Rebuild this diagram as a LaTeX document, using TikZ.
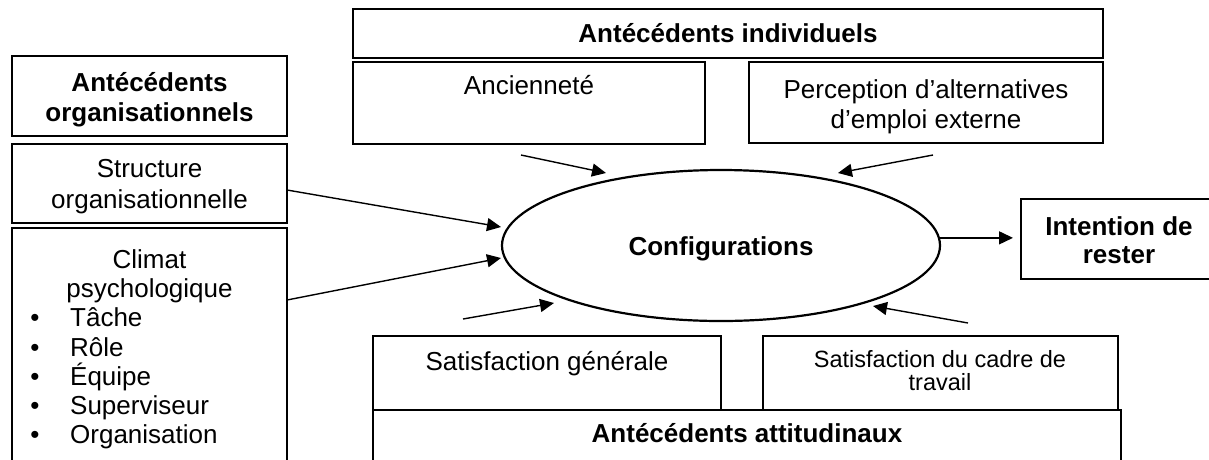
\documentclass[tikz,border=0pt]{standalone}
\usepackage{fontspec}
\setmainfont{Liberation Sans}
\usetikzlibrary{arrows.meta,shapes.geometric}
\tikzset{
  boxst/.style={draw, line width=1.4pt, inner sep=0pt, outer sep=0pt, anchor=north west},
  txt/.style={inner sep=0pt, anchor=base, font=\fontsize{26}{30}\selectfont},
  btxt/.style={txt, font=\fontsize{26}{30}\selectfont\bfseries},
  stxt/.style={txt, font=\fontsize{23.5}{27}\selectfont},
  ltxt/.style={txt, anchor=base west},
  arr/.style={line width=1.4pt, -{Triangle[length=14pt,width=13pt]}},
  ellst/.style={draw, ellipse, line width=2.2pt, inner sep=0pt, minimum width=438pt, minimum height=151pt}
}
\begin{document}
\begin{tikzpicture}[x=1pt,y=-1pt]
\useasboundingbox (0,0) rectangle (1209,459);
\clip (0,0) rectangle (1209,459);
% boxes
\node[boxst, minimum width=750pt, minimum height=49pt] (indiv) at (353,9) {};
\node[boxst, minimum width=352pt, minimum height=82pt] (anc) at (353,62) {};
\node[boxst, minimum width=354pt, minimum height=81pt] (perc) at (749,62) {};
\node[boxst, minimum width=275pt, minimum height=80pt] (org) at (12,56) {};
\node[boxst, minimum width=275pt, minimum height=79pt] (str) at (12,144) {};
\node[boxst, minimum width=275pt, minimum height=252pt] (clim) at (12,228) {};
\node[boxst, minimum width=196pt, minimum height=80pt] (intent) at (1021,199) {};
\node[boxst, minimum width=348pt, minimum height=74pt] (satg) at (373,336) {};
\node[boxst, minimum width=355pt, minimum height=74pt] (satc) at (763,336) {};
\node[boxst, minimum width=748pt, minimum height=70pt] (att) at (373,410) {};
\node[ellst] (conf) at (721,245.5) {};
% texts
\node[btxt] (tindiv) at (728,42) {Antécédents individuels};
\node[txt] (tanc) at (529,94) {Ancienneté};
\node[txt] (tperc1) at (926,98) {Perception d’alternatives};
\node[txt] (tperc2) at (926,128) {d’emploi externe};
\node[btxt] (torg1) at (149.5,91) {Antécédents};
\node[btxt] (torg2) at (149.5,121) {organisationnels};
\node[txt] (tstr1) at (149.5,177) {Structure};
\node[txt] (tstr2) at (149.5,208) {organisationnelle};
\node[txt] (tcl1) at (149.5,268) {Climat};
\node[txt] (tcl2) at (149.5,297) {psychologique};
\foreach \n/\t/\yy in {1/Tâche/326, 2/Rôle/356, 3/Équipe/385, 4/Superviseur/414, 5/Organisation/443}{
  \node[txt] (bul\n) at (35,\yy) {•};
  \node[ltxt] (item\n) at (70,\yy) {\t};
}
\node[btxt] (tconf) at (721,255) {Configurations};
\node[btxt] (tint1) at (1119,235) {Intention de};
\node[btxt] (tint2) at (1119,263) {rester};
\node[txt] (tsatg) at (547,370) {Satisfaction générale};
\node[stxt] (tsatc1) at (940,367) {Satisfaction du cadre de};
\node[stxt] (tsatc2) at (940,390) {travail};
\node[btxt] (tatt) at (747,442) {Antécédents attitudinaux};
% arrow ends
\coordinate (a1s) at (521,155); \coordinate (a1e) at (606,173);
\coordinate (a2s) at (933,155); \coordinate (a2e) at (838,173);
\coordinate (a3s) at (287,190); \coordinate (a3e) at (501,227);
\coordinate (a4s) at (287,300); \coordinate (a4e) at (501,258);
\coordinate (a5s) at (463,319); \coordinate (a5e) at (554,303);
\coordinate (a6s) at (968,323); \coordinate (a6e) at (873,306);
\draw[arr] (a1s) -- (a1e);
\draw[arr] (a2s) -- (a2e);
\draw[arr] (a3s) -- (a3e);
\draw[arr] (a4s) -- (a4e);
\draw[arr] (a5s) -- (a5e);
\draw[arr] (a6s) -- (a6e);
\draw[arr, shorten >=8pt] (conf.2) -- (conf.2 -| intent.west);
\end{tikzpicture}
\end{document}
